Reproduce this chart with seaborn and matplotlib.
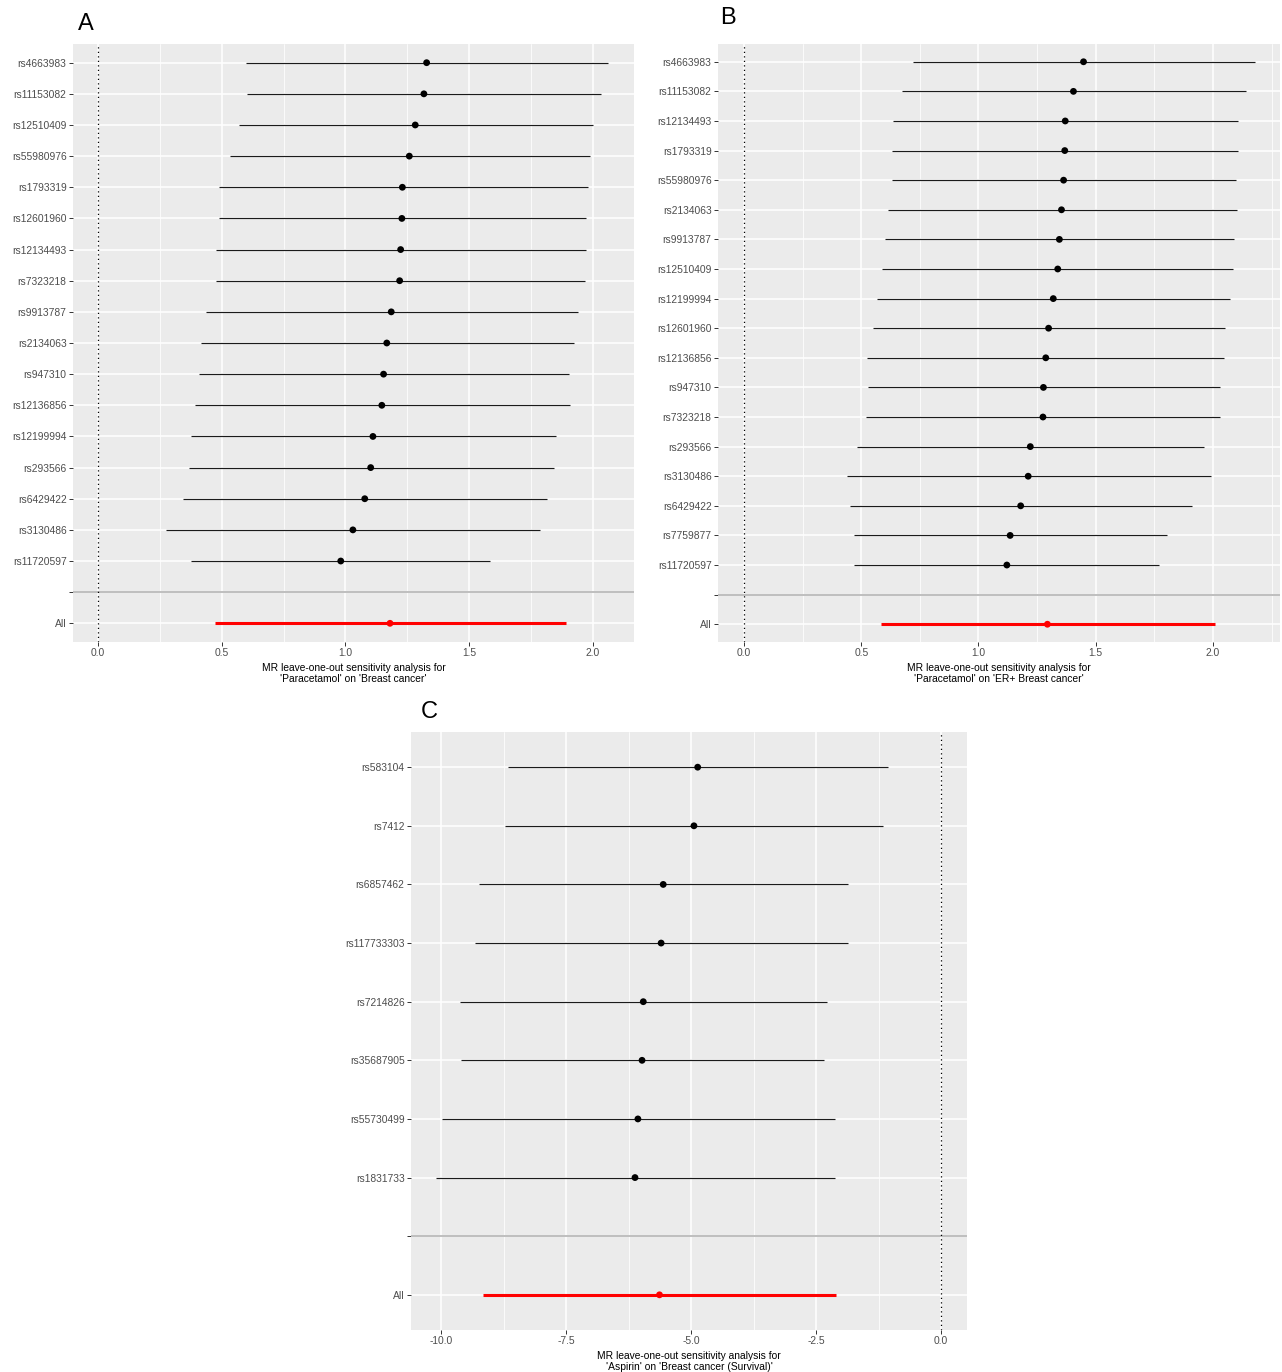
import numpy as np
import pandas as pd
import matplotlib
matplotlib.use("Agg")
import matplotlib.pyplot as plt
from matplotlib.ticker import FixedLocator
import seaborn as sns

sns.set_theme(style="darkgrid")
plt.rcParams['font.family'] = ['Liberation Sans', 'DejaVu Sans']
plt.rcParams['axes.unicode_minus'] = True

# ---- A: Paracetamol on Breast cancer ----
a_snps = ["rs4663983", "rs11153082", "rs12510409", "rs55980976", "rs1793319",
          "rs12601960", "rs12134493", "rs7323218", "rs9913787", "rs2134063",
          "rs947310", "rs12136856", "rs12199994", "rs293566", "rs6429422",
          "rs3130486", "rs11720597"]
a_b = [1.328, 1.317, 1.282, 1.258, 1.230, 1.228, 1.223, 1.219, 1.185, 1.167,
       1.154, 1.147, 1.111, 1.102, 1.078, 1.030, 0.981]
a_lo = [0.597, 0.602, 0.569, 0.533, 0.491, 0.491, 0.478, 0.478, 0.436, 0.415,
        0.408, 0.391, 0.376, 0.369, 0.342, 0.276, 0.376]
a_hi = [2.061, 2.034, 2.000, 1.987, 1.979, 1.973, 1.973, 1.968, 1.938, 1.922,
        1.905, 1.907, 1.849, 1.841, 1.815, 1.787, 1.586]
a_all = [1.180, 0.472, 1.891]

# ---- B: Paracetamol on ER+ Breast cancer ----
b_snps = ["rs4663983", "rs11153082", "rs12134493", "rs1793319", "rs55980976",
          "rs2134063", "rs9913787", "rs12510409", "rs12199994", "rs12601960",
          "rs12136856", "rs947310", "rs7323218", "rs293566", "rs3130486",
          "rs6429422", "rs7759877", "rs11720597"]
b_b = [1.448, 1.405, 1.370, 1.368, 1.363, 1.354, 1.345, 1.338, 1.319, 1.299,
       1.287, 1.277, 1.275, 1.221, 1.212, 1.180, 1.135, 1.121]
b_lo = [0.722, 0.672, 0.637, 0.632, 0.629, 0.613, 0.602, 0.590, 0.567, 0.550,
        0.525, 0.527, 0.522, 0.483, 0.438, 0.450, 0.468, 0.468]
b_hi = [2.180, 2.140, 2.107, 2.107, 2.100, 2.103, 2.088, 2.086, 2.074, 2.053,
        2.049, 2.028, 2.028, 1.960, 1.991, 1.912, 1.804, 1.772]
b_all = [1.294, 0.583, 2.010]

# ---- C: Aspirin on Breast cancer (Survival) ----
c_snps = ["rs583104", "rs7412", "rs6857462", "rs117733303", "rs7214826",
          "rs35687905", "rs55730499", "rs1831733"]
c_b = [-4.871, -4.946, -5.561, -5.603, -5.960, -5.985, -6.068, -6.126]
c_lo = [-8.662, -8.720, -9.252, -9.335, -9.626, -9.609, -9.983, -10.108]
c_hi = [-1.064, -1.155, -1.862, -1.862, -2.286, -2.352, -2.128, -2.128]
c_all = [-5.636, -9.160, -2.103]

PANEL_BG = "#EBEBEB"
TICK_TXT = "#4D4D4D"
FS = 7.4


def forest(ax, snps, b, lo, hi, all_vals, xlim, xticks, xlabel):
    levels = list(snps) + ["", "All"]
    n = len(snps)
    df = pd.DataFrame({
        "snp": list(snps) + ["All"],
        "b": list(b) + [all_vals[0]],
        "lo": list(lo) + [all_vals[1]],
        "hi": list(hi) + [all_vals[2]],
        "kind": ["single"] * n + ["total"],
    })
    df["pos"] = [levels.index(s) for s in df["snp"]]

    ax.set_facecolor(PANEL_BG)
    for sp in ax.spines.values():
        sp.set_visible(False)

    # white grid: majors on both axes, minors between x majors
    ax.set_axisbelow(True)
    minor = [(xticks[i] + xticks[i + 1]) / 2 for i in range(len(xticks) - 1)]
    step = xticks[1] - xticks[0]
    minor = [xticks[0] - step / 2] + minor + [xticks[-1] + step / 2]
    ax.xaxis.set_major_locator(FixedLocator(xticks))
    ax.xaxis.set_minor_locator(FixedLocator(minor))
    ax.grid(which="major", color="white", lw=1.1)
    ax.grid(which="minor", axis="x", color="white", lw=0.55)

    ax.axhline(n, color="#BEBEBE", lw=1.4, zorder=1.5)
    ax.axvline(0, color="black", lw=0.9, ls=(0, (1, 2.6)), zorder=1.6)

    single = df[df["kind"] == "single"]
    total = df[df["kind"] == "total"]
    ax.hlines(single["pos"], single["lo"], single["hi"], color="#1a1a1a", lw=0.85, zorder=2)
    ax.hlines(total["pos"], total["lo"], total["hi"], color="red", lw=2.2, zorder=2)
    sns.scatterplot(data=df, x="b", y="pos", hue="kind",
                    palette={"single": "black", "total": "red"},
                    s=24, linewidth=0, legend=False, ax=ax, zorder=3)

    ax.set_yticks(range(len(levels)))
    ax.set_yticklabels(levels)
    ax.set_ylim(len(levels) - 1 + 0.6, -0.6)
    ax.set_xlim(*xlim)
    ax.set_xticklabels([f"{t:.1f}" for t in xticks])
    ax.tick_params(axis="both", which="major", left=True, bottom=True,
                   length=2.6, width=0.7, color="#333333",
                   labelcolor=TICK_TXT, labelsize=FS, pad=2.0)
    ax.tick_params(axis="x", which="minor", length=0)
    ax.set_ylabel("")
    ax.set_xlabel(xlabel, fontsize=FS, color="black", labelpad=3, linespacing=1.15)


W, H = 1282, 1372
fig = plt.figure(figsize=(W / 100, H / 100), dpi=100)


def box(l, r, t, b):
    return [l / W, 1 - b / H, (r - l) / W, (b - t) / H]


axA = fig.add_axes(box(73, 634, 44, 642))
axB = fig.add_axes(box(718, 1280, 44, 642))
axC = fig.add_axes(box(411, 967, 732, 1330))

forest(axA, a_snps, a_b, a_lo, a_hi, a_all, (-0.101, 2.166),
       [0.0, 0.5, 1.0, 1.5, 2.0],
       "MR leave-one-out sensitivity analysis for\n'Paracetamol' on 'Breast cancer'")
forest(axB, b_snps, b_b, b_lo, b_hi, b_all, (-0.111, 2.286),
       [0.0, 0.5, 1.0, 1.5, 2.0],
       "MR leave-one-out sensitivity analysis for\n'Paracetamol' on 'ER+ Breast cancer'")
forest(axC, c_snps, c_b, c_lo, c_hi, c_all, (-10.61, 0.52),
       [-10.0, -7.5, -5.0, -2.5, 0.0],
       "MR leave-one-out sensitivity analysis for\n'Aspirin' on 'Breast cancer (Survival)'")

fig.text(78 / W, 1 - 24 / H, "A", fontsize=17, color="black", va="center", ha="left")
fig.text(720 / W, 1 - 18 / H, "B", fontsize=17, color="black", va="center", ha="left")
fig.text(421 / W, 1 - 712 / H, "C", fontsize=17, color="black", va="center", ha="left")

fig.savefig("out.png", dpi=100, facecolor="white")
